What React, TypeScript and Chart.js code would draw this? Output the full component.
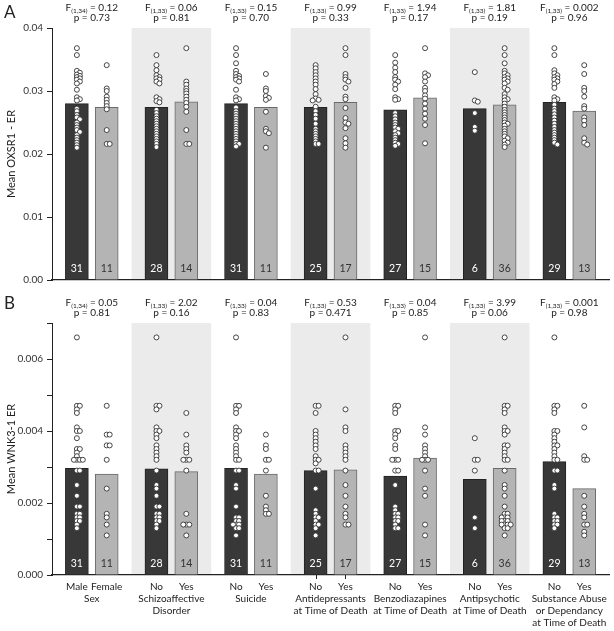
import React, { useEffect, useRef } from 'react';
import { Chart, registerables } from 'chart.js';

Chart.register(...registerables);

const FONT = 'Lato, "Open Sans", "DejaVu Sans", sans-serif';

// ---------- categories / labels ----------
const barLabels = [
  ['Male', 'Female'], ['No', 'Yes'], ['No', 'Yes'], ['No', 'Yes'],
  ['No', 'Yes'], ['No', 'Yes'], ['No', 'Yes'],
];
const groupLabels = [
  ['Sex'],
  ['Schizoaffective', 'Disorder'],
  ['Suicide'],
  ['Antidepressants', 'at Time of Death'],
  ['Benzodiazapines', 'at Time of Death'],
  ['Antipsychotic', 'at Time of Death'],
  ['Substance Abuse', 'or Dependancy', 'at Time of Death'],
];
const countsDark = [31, 28, 31, 25, 27, 6, 29];
const countsLight = [11, 14, 11, 17, 15, 36, 13];
const shadedGroups = [1, 3, 5];
const tickedGroups = [3];

// ---------- statistics ----------
const dfLabels = ['(1,34)', '(1,33)', '(1,33)', '(1,33)', '(1,33)', '(1,33)', '(1,33)'];
const fA = ['0.12', '0.06', '0.15', '0.99', '1.94', '1.81', '0.002'];
const pA = ['0.73', '0.81', '0.70', '0.33', '0.17', '0.19', '0.96'];
const fB = ['0.05', '2.02', '0.04', '0.53', '0.04', '3.99', '0.001'];
const pB = ['0.81', '0.16', '0.83', '0.471', '0.85', '0.06', '0.98'];

// ---------- axis ticks ----------
const yTicksA = [0, 0.01, 0.02, 0.03, 0.04];
const yLabeledA = [0, 0.01, 0.02, 0.03, 0.04];
const yTicksB = [0, 0.001, 0.002, 0.003, 0.004, 0.005, 0.006, 0.007];
const yLabeledB = [0, 0.002, 0.004, 0.006];

// ---------- Panel A: OXSR1 ----------
const meanA_dark = [0.0280, 0.0274, 0.0280, 0.0274, 0.0270, 0.0272, 0.0282];
const meanA_light = [0.0274, 0.0283, 0.0274, 0.0282, 0.0289, 0.0278, 0.0268];

const ptsA_sexMale = [0.0368, 0.0357, 0.0332, 0.0329, 0.0326, 0.0324, 0.0322, 0.0320, 0.0318, 0.0315, 0.0312, 0.0302, 0.0290, 0.0287, 0.0285, 0.0272, 0.0268, 0.0262, 0.0258, 0.0255, 0.0250, 0.0246, 0.0242, 0.0238, 0.0235, 0.0230, 0.0226, 0.0222, 0.0218, 0.0214, 0.0210];
const ptsA_sexFemale = [0.0341, 0.0304, 0.0300, 0.0291, 0.0286, 0.0281, 0.0276, 0.0271, 0.0238, 0.0216, 0.0216];
const ptsA_schizoNo = [0.0357, 0.0341, 0.0333, 0.0325, 0.0322, 0.0320, 0.0318, 0.0315, 0.0312, 0.0290, 0.0287, 0.0284, 0.0282, 0.0270, 0.0265, 0.0260, 0.0256, 0.0252, 0.0248, 0.0244, 0.0240, 0.0236, 0.0232, 0.0228, 0.0224, 0.0220, 0.0216, 0.0211];
const ptsA_schizoYes = [0.0368, 0.0315, 0.0310, 0.0304, 0.0300, 0.0296, 0.0291, 0.0286, 0.0281, 0.0275, 0.0267, 0.0238, 0.0216, 0.0216];
const ptsA_suicideNo = [0.0368, 0.0357, 0.0344, 0.0332, 0.0327, 0.0324, 0.0322, 0.0320, 0.0318, 0.0315, 0.0302, 0.0290, 0.0287, 0.0285, 0.0274, 0.0268, 0.0264, 0.0260, 0.0256, 0.0252, 0.0248, 0.0244, 0.0240, 0.0236, 0.0232, 0.0228, 0.0224, 0.0220, 0.0216, 0.0216, 0.0212];
const ptsA_suicideYes = [0.0327, 0.0304, 0.0300, 0.0292, 0.0289, 0.0286, 0.0267, 0.0240, 0.0236, 0.0233, 0.0210];
const ptsA_antidepNo = [0.0341, 0.0336, 0.0330, 0.0325, 0.0320, 0.0315, 0.0310, 0.0303, 0.0295, 0.0288, 0.0286, 0.0285, 0.0275, 0.0268, 0.0262, 0.0256, 0.0248, 0.0240, 0.0236, 0.0232, 0.0228, 0.0224, 0.0220, 0.0216, 0.0216];
const ptsA_antidepYes = [0.0368, 0.0357, 0.0327, 0.0322, 0.0318, 0.0315, 0.0305, 0.0291, 0.0287, 0.0273, 0.0257, 0.0250, 0.0248, 0.0241, 0.0225, 0.0217, 0.0210];
const ptsA_benzoNo = [0.0357, 0.0345, 0.0337, 0.0330, 0.0322, 0.0318, 0.0315, 0.0310, 0.0303, 0.0290, 0.0287, 0.0286, 0.0265, 0.0260, 0.0255, 0.0250, 0.0246, 0.0242, 0.0240, 0.0236, 0.0233, 0.0230, 0.0226, 0.0222, 0.0218, 0.0216, 0.0213];
const ptsA_benzoYes = [0.0368, 0.0328, 0.0325, 0.0322, 0.0315, 0.0305, 0.0300, 0.0293, 0.0288, 0.0280, 0.0272, 0.0264, 0.0256, 0.0246, 0.0217];
const ptsA_psychNo = [0.0330, 0.0285, 0.0283, 0.0265, 0.0243, 0.0237];
const ptsA_psychYes = [0.0368, 0.0357, 0.0344, 0.0332, 0.0328, 0.0325, 0.0322, 0.0320, 0.0318, 0.0315, 0.0312, 0.0305, 0.0302, 0.0295, 0.0290, 0.0287, 0.0285, 0.0280, 0.0275, 0.0270, 0.0266, 0.0262, 0.0258, 0.0254, 0.0250, 0.0248, 0.0245, 0.0240, 0.0236, 0.0232, 0.0228, 0.0225, 0.0221, 0.0218, 0.0215, 0.0211];
const ptsA_substNo = [0.0368, 0.0357, 0.0333, 0.0328, 0.0325, 0.0322, 0.0320, 0.0318, 0.0315, 0.0311, 0.0305, 0.0290, 0.0287, 0.0285, 0.0278, 0.0272, 0.0268, 0.0263, 0.0258, 0.0253, 0.0248, 0.0243, 0.0238, 0.0234, 0.0230, 0.0226, 0.0222, 0.0218, 0.0215];
const ptsA_substYes = [0.0341, 0.0327, 0.0305, 0.0300, 0.0291, 0.0276, 0.0272, 0.0258, 0.0253, 0.0246, 0.0225, 0.0218, 0.0215];

// ---------- Panel B: WNK3-1 ----------
const meanB_dark = [0.00296, 0.00295, 0.00296, 0.00290, 0.00275, 0.00266, 0.00315];
const meanB_light = [0.00280, 0.00287, 0.00280, 0.00292, 0.00325, 0.00296, 0.00240];

const ptsB_sexMale = [0.0066, 0.0047, 0.0047, 0.0046, 0.0045, 0.0041, 0.0040, 0.0040, 0.0038, 0.0035, 0.0035, 0.0034, 0.0033, 0.0032, 0.0032, 0.0032, 0.0032, 0.0029, 0.0029, 0.0025, 0.0022, 0.0019, 0.0019, 0.0017, 0.0017, 0.0016, 0.0016, 0.0015, 0.0015, 0.0014, 0.0013];
const ptsB_sexFemale = [0.0047, 0.0039, 0.0039, 0.0036, 0.0036, 0.0032, 0.0024, 0.0017, 0.0016, 0.0014, 0.0011];
const ptsB_schizoNo = [0.0066, 0.0047, 0.0047, 0.0046, 0.0041, 0.0040, 0.0040, 0.0039, 0.0038, 0.0036, 0.0035, 0.0034, 0.0033, 0.0032, 0.0029, 0.0025, 0.0024, 0.0022, 0.0019, 0.0019, 0.0017, 0.0017, 0.0016, 0.0016, 0.0015, 0.0015, 0.0014, 0.0013];
const ptsB_schizoYes = [0.0045, 0.0039, 0.0036, 0.0035, 0.0034, 0.0032, 0.0032, 0.0032, 0.0029, 0.0017, 0.0014, 0.0014, 0.0014, 0.0011];
const ptsB_suicideNo = [0.0066, 0.0047, 0.0047, 0.0046, 0.0045, 0.0041, 0.0040, 0.0040, 0.0039, 0.0038, 0.0036, 0.0035, 0.0034, 0.0033, 0.0032, 0.0032, 0.0029, 0.0029, 0.0025, 0.0024, 0.0019, 0.0016, 0.0016, 0.0015, 0.0015, 0.0014, 0.0014, 0.0014, 0.0013, 0.0013, 0.0011];
const ptsB_suicideYes = [0.0039, 0.0036, 0.0035, 0.0032, 0.0032, 0.0029, 0.0022, 0.0019, 0.0018, 0.0017, 0.0017];
const ptsB_antidepNo = [0.0047, 0.0047, 0.0045, 0.0040, 0.0039, 0.0038, 0.0037, 0.0036, 0.0035, 0.0033, 0.0032, 0.0032, 0.0031, 0.0029, 0.0029, 0.0024, 0.0018, 0.0017, 0.0016, 0.0016, 0.0015, 0.0014, 0.0014, 0.0013, 0.0011];
const ptsB_antidepYes = [0.0066, 0.0046, 0.0041, 0.0040, 0.0036, 0.0035, 0.0034, 0.0033, 0.0032, 0.0029, 0.0025, 0.0022, 0.0019, 0.0017, 0.0016, 0.0014, 0.0014];
const ptsB_benzoNo = [0.0047, 0.0047, 0.0046, 0.0045, 0.0040, 0.0040, 0.0039, 0.0038, 0.0036, 0.0035, 0.0032, 0.0032, 0.0032, 0.0029, 0.0029, 0.0025, 0.0019, 0.0018, 0.0017, 0.0017, 0.0016, 0.0016, 0.0015, 0.0015, 0.0014, 0.0013, 0.0013];
const ptsB_benzoYes = [0.0066, 0.0041, 0.0039, 0.0036, 0.0035, 0.0034, 0.0033, 0.0032, 0.0032, 0.0032, 0.0029, 0.0024, 0.0022, 0.0014, 0.0011];
const ptsB_psychNo = [0.0038, 0.0032, 0.0032, 0.0029, 0.0016, 0.0013];
const ptsB_psychYes = [0.0066, 0.0047, 0.0047, 0.0046, 0.0045, 0.0041, 0.0040, 0.0040, 0.0039, 0.0036, 0.0036, 0.0035, 0.0034, 0.0033, 0.0032, 0.0032, 0.0029, 0.0025, 0.0024, 0.0022, 0.0019, 0.0017, 0.0017, 0.0016, 0.0016, 0.0016, 0.0015, 0.0015, 0.0015, 0.0014, 0.0014, 0.0014, 0.0014, 0.0013, 0.0013, 0.0011];
const ptsB_substNo = [0.0066, 0.0047, 0.0047, 0.0046, 0.0045, 0.0040, 0.0040, 0.0039, 0.0038, 0.0037, 0.0036, 0.0036, 0.0035, 0.0034, 0.0033, 0.0032, 0.0032, 0.0029, 0.0029, 0.0025, 0.0024, 0.0017, 0.0016, 0.0016, 0.0015, 0.0015, 0.0014, 0.0014, 0.0013];
const ptsB_substYes = [0.0047, 0.0041, 0.0033, 0.0032, 0.0032, 0.0022, 0.0019, 0.0017, 0.0016, 0.0014, 0.0014, 0.0012, 0.0011];

const ptsA_dark = [ptsA_sexMale, ptsA_schizoNo, ptsA_suicideNo, ptsA_antidepNo, ptsA_benzoNo, ptsA_psychNo, ptsA_substNo];
const ptsA_light = [ptsA_sexFemale, ptsA_schizoYes, ptsA_suicideYes, ptsA_antidepYes, ptsA_benzoYes, ptsA_psychYes, ptsA_substYes];
const ptsB_dark = [ptsB_sexMale, ptsB_schizoNo, ptsB_suicideNo, ptsB_antidepNo, ptsB_benzoNo, ptsB_psychNo, ptsB_substNo];
const ptsB_light = [ptsB_sexFemale, ptsB_schizoYes, ptsB_suicideYes, ptsB_antidepYes, ptsB_benzoYes, ptsB_psychYes, ptsB_substYes];

// ---------- layout ----------
const W = 614;
const OFF = 0.1875; // half distance between paired bars, in group units
const PLOT_H = 252;
const PX_PER_GROUP = 80;

type PanelCfg = {
  letter: string; yTitle: string; yMax: number; yTicks: number[]; yLabeled: number[]; dec: number;
  meanDark: number[]; meanLight: number[]; ptsDark: number[][]; ptsLight: number[][];
  F: string[]; p: string[]; top: number; height: number; areaTop: number; xAxisH: number;
  showXLabels: boolean; letterY: number;
};

const panelA: PanelCfg = {
  letter: 'A', yTitle: 'Mean OXSR1 - ER', yMax: 0.04, yTicks: yTicksA, yLabeled: yLabeledA, dec: 2,
  meanDark: meanA_dark, meanLight: meanA_light, ptsDark: ptsA_dark, ptsLight: ptsA_light,
  F: fA, p: pA, top: 0, height: 290, areaTop: 28, xAxisH: 10, showXLabels: false, letterY: 13,
};
const panelB: PanelCfg = {
  letter: 'B', yTitle: 'Mean WNK3-1 ER', yMax: 0.007, yTicks: yTicksB, yLabeled: yLabeledB, dec: 3,
  meanDark: meanB_dark, meanLight: meanB_light, ptsDark: ptsB_dark, ptsLight: ptsB_light,
  F: fB, p: pB, top: 290, height: 341, areaTop: 33, xAxisH: 56, showXLabels: true, letterY: 14,
};

function swarm(values: number[], center: number, yPerPx: number) {
  const placed: { x: number; y: number }[] = [];
  const minD = 2.3;
  const step = 3.0;
  const cands = [0, 1, -1, 2, -2];
  for (const v of values) {
    const py = v / yPerPx;
    let chosen = 0;
    for (const c of cands) {
      const px = c * step;
      if (placed.every((q) => Math.hypot(q.x - px, q.y - py) >= minD)) { chosen = px; break; }
    }
    placed.push({ x: chosen, y: py });
  }
  return placed.map((q, i) => ({ x: center + q.x / PX_PER_GROUP, y: values[i] }));
}

function drawStat(ctx: CanvasRenderingContext2D, cx: number, yF: number, yP: number, df: string, F: string, p: string) {
  const main = `10px ${FONT}`;
  const sub = `6.5px ${FONT}`;
  ctx.textBaseline = 'middle';
  ctx.textAlign = 'left';
  ctx.fillStyle = '#222';
  ctx.font = main;
  const wF = ctx.measureText('F').width;
  const rest = ' = ' + F;
  const wRest = ctx.measureText(rest).width;
  ctx.font = sub;
  const wSub = ctx.measureText(df).width;
  const x0 = cx - (wF + wSub + wRest) / 2;
  ctx.font = main;
  ctx.fillText('F', x0, yF);
  ctx.font = sub;
  ctx.fillText(df, x0 + wF, yF + 3);
  ctx.font = main;
  ctx.fillText(rest, x0 + wF + wSub, yF);
  ctx.textAlign = 'center';
  ctx.fillText('p = ' + p, cx, yP);
}

function buildConfig(c: PanelCfg): any {
  const yPerPx = c.yMax / PLOT_H;
  const pts: { x: number; y: number }[] = [];
  c.ptsDark.forEach((vals, g) => pts.push(...swarm(vals, g - OFF, yPerPx)));
  c.ptsLight.forEach((vals, g) => pts.push(...swarm(vals, g + OFF, yPerPx)));

  const plugin = {
    id: 'panelDecor',
    beforeDraw(chart: any) {
      const { ctx, chartArea, scales } = chart;
      ctx.save();
      ctx.fillStyle = '#ebebeb';
      for (const g of shadedGroups) {
        const x1 = scales.x.getPixelForValue(g - 0.5);
        const x2 = scales.x.getPixelForValue(g + 0.5);
        ctx.fillRect(x1, chartArea.top, x2 - x1, chartArea.bottom - chartArea.top);
      }
      ctx.restore();
    },
    afterDatasetsDraw(chart: any) {
      const { ctx, chartArea, scales } = chart;
      const x = scales.x;
      ctx.save();
      ctx.font = `10.5px ${FONT}`;
      ctx.textAlign = 'center';
      ctx.textBaseline = 'middle';
      for (let g = 0; g < 7; g++) {
        ctx.fillStyle = '#ffffff';
        ctx.fillText(String(countsDark[g]), x.getPixelForValue(g - OFF), chartArea.bottom - 11);
        ctx.fillStyle = '#333333';
        ctx.fillText(String(countsLight[g]), x.getPixelForValue(g + OFF), chartArea.bottom - 11);
      }
      for (let g = 0; g < 7; g++) {
        drawStat(ctx, x.getPixelForValue(g), chartArea.top - 20, chartArea.top - 10, dfLabels[g], c.F[g], c.p[g]);
      }
      ctx.font = `17px ${FONT}`;
      ctx.fillStyle = '#222';
      ctx.textAlign = 'left';
      ctx.textBaseline = 'middle';
      ctx.fillText(c.letter, 4, c.letterY);
      if (c.showXLabels) {
        ctx.font = `10px ${FONT}`;
        ctx.fillStyle = '#222';
        ctx.textAlign = 'center';
        for (let g = 0; g < 7; g++) {
          ctx.fillText(barLabels[g][0], x.getPixelForValue(g - OFF), chartArea.bottom + 12);
          ctx.fillText(barLabels[g][1], x.getPixelForValue(g + OFF), chartArea.bottom + 12);
          groupLabels[g].forEach((line, i) => {
            ctx.fillText(line, x.getPixelForValue(g), chartArea.bottom + 24 + i * 12);
          });
        }
        ctx.strokeStyle = '#222';
        ctx.lineWidth = 1;
        for (const g of tickedGroups) {
          for (const o of [-OFF, OFF]) {
            const px = Math.round(x.getPixelForValue(g + o)) + 0.5;
            ctx.beginPath();
            ctx.moveTo(px, chartArea.bottom);
            ctx.lineTo(px, chartArea.bottom + 4);
            ctx.stroke();
          }
        }
      }
      ctx.restore();
    },
  };

  return {
    type: 'bar',
    data: {
      datasets: [
        {
          type: 'scatter', data: pts, order: 0,
          pointRadius: 2.5, pointBackgroundColor: '#ffffff', pointBorderColor: '#333333', pointBorderWidth: 0.9,
        },
        {
          type: 'bar', data: c.meanDark.map((m, g) => ({ x: g - OFF, y: m })), order: 1,
          backgroundColor: '#383838', borderColor: '#222222', borderWidth: 1, barThickness: 23, grouped: false,
        },
        {
          type: 'bar', data: c.meanLight.map((m, g) => ({ x: g + OFF, y: m })), order: 1,
          backgroundColor: '#b4b4b4', borderColor: '#6a6a6a', borderWidth: 1, barThickness: 23, grouped: false,
        },
      ],
    },
    options: {
      responsive: false,
      animation: false,
      events: [],
      layout: { padding: { top: c.areaTop, left: 0, right: 2, bottom: 0 } },
      plugins: { legend: { display: false }, tooltip: { enabled: false } },
      scales: {
        x: {
          type: 'linear', min: -0.5, max: 6.5, offset: false,
          grid: { display: false, offset: false },
          border: { display: true, color: '#222', width: 1.3 },
          ticks: { display: false },
          afterFit: (s: any) => { s.height = c.xAxisH; },
        },
        y: {
          type: 'linear', min: 0, max: c.yMax,
          afterBuildTicks: (s: any) => { s.ticks = c.yTicks.map((v) => ({ value: v })); },
          ticks: {
            callback: (v: number) => (c.yLabeled.includes(v) ? v.toFixed(c.dec) : ''),
            font: { size: 10, family: FONT }, color: '#333', padding: 4,
          },
          grid: { drawOnChartArea: false, drawTicks: true, tickLength: 5, color: '#222' },
          border: { display: true, color: '#222', width: 1 },
          title: {
            display: true, text: c.yTitle, font: { size: 11, family: FONT }, color: '#222',
            padding: { top: 5, bottom: 0 },
          },
          afterFit: (s: any) => { s.width = 52; },
        },
      },
    },
    plugins: [plugin],
  };
}

function Panel({ cfg }: { cfg: PanelCfg }) {
  const ref = useRef<HTMLCanvasElement>(null);
  useEffect(() => {
    if (!ref.current) return;
    const chart = new Chart(ref.current, buildConfig(cfg));
    return () => chart.destroy();
  }, [cfg]);
  return (
    <canvas
      ref={ref}
      width={W}
      height={cfg.height}
      style={{ position: 'absolute', left: 0, top: cfg.top, display: 'block' }}
    />
  );
}

export default function App() {
  return (
    <div style={{ position: 'absolute', left: 0, top: 0, width: W, height: 631, background: '#fff' }}>
      <Panel cfg={panelA} />
      <Panel cfg={panelB} />
    </div>
  );
}
